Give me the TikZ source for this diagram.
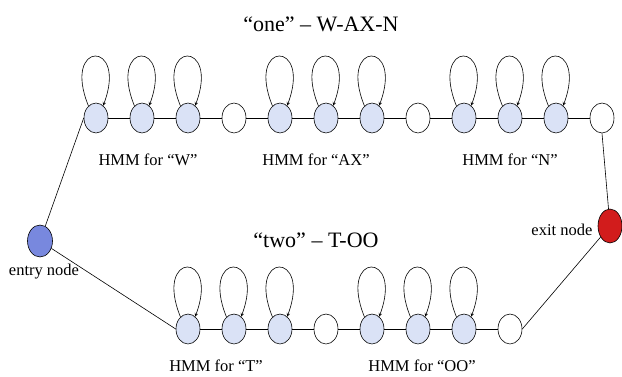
\documentclass[tikz,border=0pt]{standalone}
\usepackage{fontspec}
\setmainfont{Liberation Serif}
\usepackage{xcolor}
\usetikzlibrary{shapes.geometric}

\definecolor{hmmblue}{RGB}{218,226,246}
\definecolor{entryblue}{RGB}{120,136,222}
\definecolor{exitred}{RGB}{210,28,28}

\tikzset{
  hmmstate/.style={ellipse, draw, line width=0.6pt, fill=hmmblue,
    minimum width=24pt, minimum height=30pt, inner sep=0pt},
  silent/.style={hmmstate, fill=white},
  selfloop/.style={-stealth, line width=0.6pt},
  lbl/.style={font=\fontsize{16.5}{18}\selectfont},
  ttl/.style={font=\fontsize{22}{24}\selectfont}
}

\begin{document}
\begin{tikzpicture}[x=1pt, y=1pt, line width=0.6pt]
\useasboundingbox (0,0) rectangle (622,376);

% "one" -- W-AX-N
\node[ttl] (title1) at (321,352) {“one” – W-AX-N};
\foreach \i in {0,...,11} {
  \pgfmathtruncatemacro{\px}{96+46*\i}
  \ifnum\i=3 \node[silent] (t\i) at (\px,258) {};
  \else\ifnum\i=7 \node[silent] (t\i) at (\px,258) {};
  \else\ifnum\i=11 \node[silent] (t\i) at (\px,258) {};
  \else \node[hmmstate] (t\i) at (\px,258) {};
    \draw[selfloop] (t\i.122) .. controls +(-27,66) and +(25,66) .. (t\i.60);
  \fi\fi\fi
}
\foreach \i [evaluate=\i as \j using int(\i+1)] in {0,...,10}
  \draw (t\i) -- (t\j);
\node[lbl] (hmmW) at (148,216) {HMM for “W”};
\node[lbl] (hmmAX) at (316,216) {HMM for “AX”};
\node[lbl] (hmmN) at (510,216) {HMM for “N”};

% "two" -- T-OO
\node[ttl] (title2) at (316,136) {“two” – T-OO};
\foreach \i in {2,...,9} {
  \pgfmathtruncatemacro{\px}{96+46*\i}
  \ifnum\i=5 \node[silent] (b\i) at (\px,47) {};
  \else\ifnum\i=9 \node[silent] (b\i) at (\px,47) {};
  \else \node[hmmstate] (b\i) at (\px,47) {};
    \draw[selfloop] (b\i.122) .. controls +(-27,66) and +(25,66) .. (b\i.60);
  \fi\fi
}
\foreach \i [evaluate=\i as \j using int(\i+1)] in {2,...,8}
  \draw (b\i) -- (b\j);
\node[lbl] (hmmT) at (216,10) {HMM for “T”};
\node[lbl] (hmmOO) at (422,10) {HMM for “OO”};

% entry and exit
\node[hmmstate, fill=entryblue, minimum width=25pt, minimum height=32pt] (entry) at (40,135) {};
\node[lbl] (entrylbl) at (44,104) {entry node};
\node[hmmstate, fill=exitred, minimum width=24pt, minimum height=34pt] (exit) at (610,150) {};
\node[lbl, anchor=east] (exitlbl) at (596,146) {exit node};

\draw (entry) -- (t0.west);
\draw (entry) -- (b2.west);
\draw (t11.south) -- (exit);
\draw (exit) -- (b9.east);
\end{tikzpicture}
\end{document}
